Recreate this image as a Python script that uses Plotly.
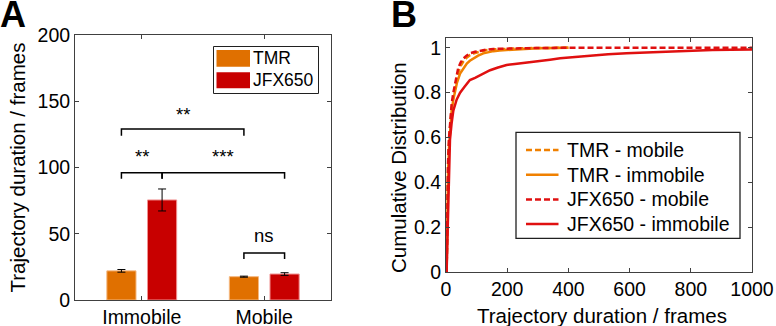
import plotly.graph_objects as go

# ---------------- data ----------------
categories = ["Immobile", "Mobile"]
tmr_means = [22.0, 17.6]
tmr_errs = [1.0, 0.4]
jfx_means = [75.5, 19.6]
jfx_errs = [8.3, 1.0]

# significance annotations: (x0, x1, bracket y, leg bottom y, label)
sig_brackets = [
    (-0.166, 0.834, 129.0, 124.0, "**"),
    (-0.166, 0.166, 96.0, 91.5, "**"),
    (0.166, 1.166, 96.0, 91.5, "***"),
    (0.834, 1.166, 35.5, 31.0, "ns"),
]

# CDF curves (frames, cumulative fraction)
tmr_mob_x = [2, 3, 5, 7, 10, 14, 18.5, 24, 29, 35, 40, 48, 57, 67, 78, 95, 111, 130, 155, 200, 250, 300, 350, 400]
tmr_mob_y = [0, 0.12, 0.34, 0.49, 0.59, 0.67, 0.73, 0.78, 0.82, 0.86, 0.89, 0.92, 0.94, 0.955, 0.967, 0.977, 0.984, 0.989, 0.993, 0.996, 0.998, 0.999, 1.0, 1.0]

tmr_imm_x = [2, 3, 5, 7, 10, 14, 18.5, 24, 30, 36, 46, 57, 68, 78, 89, 105, 122, 140, 155, 175, 198, 225, 253, 300, 350, 400]
tmr_imm_y = [0, 0.11, 0.32, 0.46, 0.56, 0.64, 0.72, 0.77, 0.81, 0.845, 0.885, 0.91, 0.93, 0.942, 0.952, 0.965, 0.975, 0.981, 0.985, 0.988, 0.99, 0.993, 0.995, 0.998, 0.999, 1.0]

jfx_mob_x = [2, 3, 5, 7, 10, 14, 18.5, 24, 29, 35, 40, 48, 57, 67, 78, 95, 111, 130, 155, 200, 250, 300, 400, 500, 700, 1000]
jfx_mob_y = [0, 0.12, 0.35, 0.5, 0.6, 0.69, 0.75, 0.8, 0.84, 0.88, 0.91, 0.935, 0.952, 0.965, 0.975, 0.982, 0.987, 0.991, 0.995, 0.997, 0.998, 0.999, 1.0, 1.0, 1.0, 1.0]

jfx_imm_x = [2, 3, 5, 7.5, 10, 13, 18, 24, 35, 46, 60, 70, 78, 95, 111, 130, 144, 170, 198, 225, 253, 280, 307, 340, 373, 405, 440, 481, 530, 590, 640, 699, 750, 808, 870, 930, 1000]
jfx_imm_y = [0, 0.06, 0.15, 0.37, 0.5, 0.59, 0.66, 0.72, 0.77, 0.80, 0.825, 0.84, 0.856, 0.866, 0.878, 0.89, 0.90, 0.912, 0.923, 0.928, 0.932, 0.937, 0.942, 0.947, 0.953, 0.957, 0.961, 0.966, 0.971, 0.976, 0.979, 0.983, 0.986, 0.988, 0.99, 0.991, 0.992]

b_xticks = [0, 200, 400, 600, 800, 1000]
b_yticks = [0, 0.2, 0.4, 0.6, 0.8, 1.0]
b_yticklabels = ["0", "0.2", "0.4", "0.6", "0.8", "1"]

# ---------------- styling ----------------
W, H = 776, 326
FONT = "Liberation Sans, Arial, Helvetica, sans-serif"
ORANGE_BAR = "#E07000"
RED_BAR = "#C80000"
ORANGE_LINE = "#F08000"
RED_LINE = "#E01010"
AXC = "#404040"
TICKSZ = 19.5
TITLESZ = 20.5


def px(x):
    return x / W


def py(y):
    return 1 - y / H


fig = go.Figure()

fig.add_trace(go.Bar(
    x=[0, 1], y=tmr_means, name="TMR", marker=dict(color=ORANGE_BAR, line=dict(color="#F4B880", width=1)),
    error_y=dict(type="data", array=tmr_errs, color="black", thickness=1, width=4),
    xaxis="x", yaxis="y", showlegend=False, offsetgroup="a"))
fig.add_trace(go.Bar(
    x=[0, 1], y=jfx_means, name="JFX650", marker=dict(color=RED_BAR, line=dict(color="#F09090", width=1)),
    error_y=dict(type="data", array=jfx_errs, color="black", thickness=1, width=4),
    xaxis="x", yaxis="y", showlegend=False, offsetgroup="b"))

DASH = "6px,3px"
curves = [
    (tmr_mob_x, tmr_mob_y, "TMR - mobile", ORANGE_LINE, DASH),
    (tmr_imm_x, tmr_imm_y, "TMR - immobile", ORANGE_LINE, "solid"),
    (jfx_mob_x, jfx_mob_y, "JFX650 - mobile", RED_LINE, DASH),
    (jfx_imm_x, jfx_imm_y, "JFX650 - immobile", RED_LINE, "solid"),
]
for cx, cy, name, col, dash in curves:
    fig.add_trace(go.Scatter(x=cx, y=cy, mode="lines", name=name, showlegend=False,
                             line=dict(color=col, width=2.5, dash=dash),
                             xaxis="x2", yaxis="y2"))

shapes = []
annotations = []
for x0, x1, yb, yl, lab in sig_brackets:
    shapes.append(dict(type="path", xref="x", yref="y",
                       path=f"M {x0},{yl} L {x0},{yb} L {x1},{yb} L {x1},{yl}",
                       line=dict(color="black", width=1.5)))
    if lab == "ns":
        ty = yb + 13.5
    elif yb > 120:
        ty = yb + 11
    else:
        ty = yb + 12
    annotations.append(dict(x=(x0 + x1) / 2, y=ty, xref="x", yref="y", text=lab,
                            showarrow=False, font=dict(size=18.5, color="black"),
                            xanchor="center", yanchor="middle"))

# legend for panel A (box, swatches, labels)
shapes.append(dict(type="rect", xref="paper", yref="paper", x0=px(213.5), x1=px(318.5), y0=py(93.5), y1=py(46.5),
                   line=dict(color="#202020", width=1), fillcolor="white"))
for (yt, yb_, col, lab) in [(50, 66.7, ORANGE_BAR, "TMR"), (72.3, 88.3, RED_BAR, "JFX650")]:
    shapes.append(dict(type="rect", xref="paper", yref="paper", x0=px(216.5), x1=px(250), y0=py(yb_), y1=py(yt),
                       line=dict(width=0), fillcolor=col))
    annotations.append(dict(x=px(250.5), y=py((yt + yb_) / 2), xref="paper", yref="paper", text=lab,
                            showarrow=False, xanchor="left", yanchor="middle",
                            font=dict(size=17.5, color="black")))

# legend for panel B
shapes.append(dict(type="rect", xref="paper", yref="paper", x0=px(516), x1=px(740), y0=py(238.3), y1=py(132.3),
                   line=dict(color="#202020", width=1.3), fillcolor="white", layer="above"))
for i, (cx, cy, name, col, dash) in enumerate(curves):
    yc = 150 + 24.7 * i
    shapes.append(dict(type="line", xref="paper", yref="paper", x0=px(526), x1=px(558.5), y0=py(yc), y1=py(yc),
                       line=dict(color=col, width=2.5, dash=dash), layer="above"))
    annotations.append(dict(x=px(564.5), y=py(yc), xref="paper", yref="paper", text=name,
                            showarrow=False, xanchor="left", yanchor="middle",
                            font=dict(size=19.5, color="black")))

# axis titles and panel letters
annotations += [
    dict(x=px(17), y=py(167.5), xref="paper", yref="paper", text="Trajectory duration / frames",
         textangle=-90, showarrow=False, xanchor="center", yanchor="middle",
         font=dict(size=TITLESZ, color="black")),
    dict(x=px(398), y=py(167), xref="paper", yref="paper", text="Cumulative Distribution",
         textangle=-90, showarrow=False, xanchor="center", yanchor="middle",
         font=dict(size=TITLESZ, color="black")),
    dict(x=px(601.5), y=py(315), xref="paper", yref="paper", text="Trajectory duration / frames",
         showarrow=False, xanchor="center", yanchor="middle", font=dict(size=TITLESZ, color="black")),
    dict(x=px(-2), y=py(-8), xref="paper", yref="paper", text="<b>A</b>", xanchor="left", yanchor="top",
         showarrow=False, font=dict(size=36, color="black")),
    dict(x=px(389), y=py(-8), xref="paper", yref="paper", text="<b>B</b>", xanchor="left", yanchor="top",
         showarrow=False, font=dict(size=36, color="black")),
]

axis_common = dict(showgrid=False, zeroline=False, showline=True, linecolor=AXC, linewidth=1,
                   ticks="inside", ticklen=4, tickcolor=AXC, mirror="ticks", automargin=False,
                   tickfont=dict(size=TICKSZ, color="black"))

fig.update_layout(
    template="none",
    width=W, height=H, margin=dict(l=0, r=0, t=0, b=0, pad=0, autoexpand=False),
    paper_bgcolor="white", plot_bgcolor="white",
    font=dict(family=FONT, color="black"),
    barmode="group", bargap=0.336, bargroupgap=0.283,
    xaxis=dict(domain=[px(75), px(331)], range=[-0.545, 1.545], tickvals=[0, 1], ticktext=categories,
               anchor="y", **axis_common),
    yaxis=dict(domain=[py(300), py(35)], range=[0, 200], tickvals=[0, 50, 100, 150, 200],
               anchor="x", **axis_common),
    xaxis2=dict(domain=[px(446), px(752)], range=[0, 1000], tickvals=b_xticks,
                anchor="y2", **axis_common),
    yaxis2=dict(domain=[py(272), py(37.7)], range=[0, 1.045], tickvals=b_yticks, ticktext=b_yticklabels,
                anchor="x2", **axis_common),
    shapes=shapes, annotations=annotations, showlegend=False,
)

fig.write_html("out.html", config={"displayModeBar": False},
               post_script="document.body.style.margin='0';document.body.style.overflow='hidden';")
